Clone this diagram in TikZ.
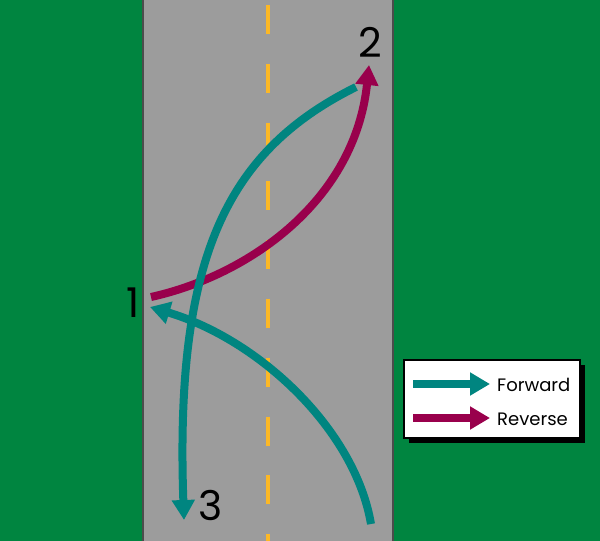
\documentclass[tikz,border=0pt]{standalone}
\usepackage{fontspec}
\setmainfont{Poppins}
\usetikzlibrary{arrows.meta,calc}
\definecolor{GrassClr}{rgb}{0,0.52,0.25}
\definecolor{RoadClr}{rgb}{0.61,0.61,0.61}
\definecolor{LaneClr}{rgb}{0.99,0.72,0.15}
\definecolor{FwdClr}{rgb}{0,0.52,0.5}
\definecolor{RevClr}{rgb}{0.6,0,0.3}

\begin{document}
\begin{tikzpicture}[x=1pt,y=-1pt,
  move/.style={line width=8pt,-{Triangle[width=22pt,length=20pt]}},
  spot/.style={font=\fontsize{41}{41}\selectfont,inner sep=0pt},
  keytext/.style={font=\fontsize{18}{18}\selectfont,inner sep=0pt,anchor=west}]
\useasboundingbox (0,0) rectangle (600,541);

\fill[GrassClr] (0,0) rectangle (600,541);
\filldraw[fill=RoadClr,draw=black!70,line width=1.2pt] (143,-2) rectangle (393,543);
\draw[LaneClr,line width=3.5pt,dash pattern=on 29pt off 29.8pt] (268,5) -- (268,541);

\coordinate (S1) at (371,524);
\coordinate (E1) at (150,307);
\coordinate (S2) at (151,297);
\coordinate (E2) at (369,65);
\coordinate (S3) at (356,87);
\coordinate (E3) at (184,520);

\draw[move,RevClr] (S2) .. controls (250,275) and (355,200) .. (E2);
\draw[move,FwdClr] (S1) .. controls (355,430) and (260,340) .. (E1);
\draw[move,FwdClr] (S3) .. controls (225,152) and (175,260) .. (E3);

\node[spot] (n1) at (133,303) {1};
\node[spot] (n2) at (370,42) {2};
\node[spot] (n3) at (211,505) {3};

\fill[black] (409,365) rectangle (585,443);
\filldraw[fill=white,draw=black,line width=1.5pt] (404,360) rectangle (580,438);

\coordinate (F1) at (413,384);
\coordinate (F2) at (490,384);
\coordinate (R1) at (413,418);
\coordinate (R2) at (490,418);
\draw[move,FwdClr] (F1) -- (F2);
\draw[move,RevClr] (R1) -- (R2);
\node[keytext] (fwd) at (497,385) {Forward};
\node[keytext] (rev) at (497,419) {Reverse};

\end{tikzpicture}
\end{document}
